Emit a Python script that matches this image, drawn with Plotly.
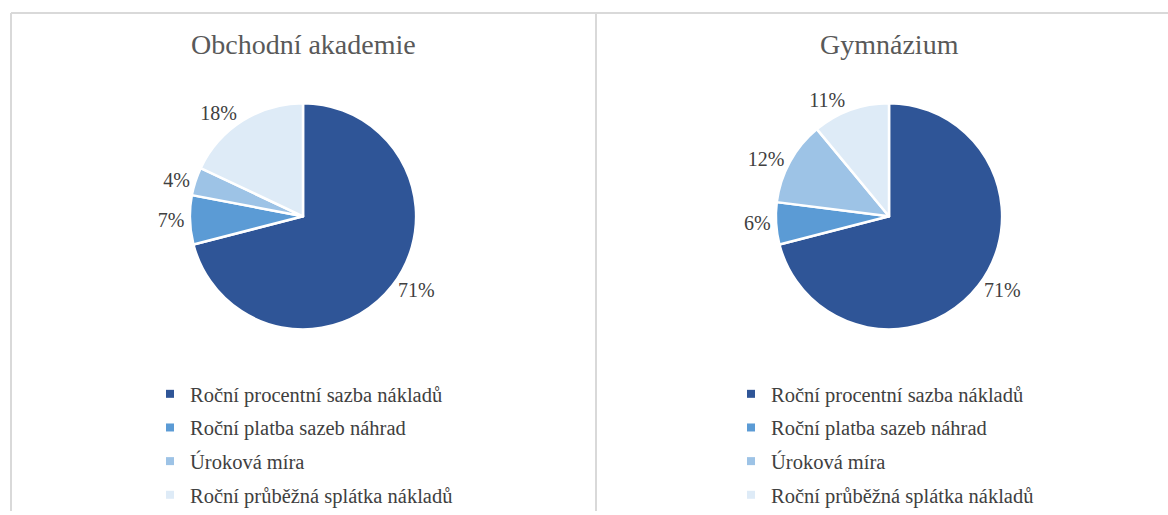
import plotly.graph_objects as go

categories = ["Roční procentní sazba nákladů", "Roční platba sazeb náhrad",
              "Úroková míra", "Roční průběžná splátka nákladů"]
titles = ["Obchodní akademie", "Gymnázium"]
values_oa = [71, 7, 4, 18]
values_gym = [71, 6, 12, 11]
colors = ["#2F5597", "#5B9BD5", "#9DC3E6", "#DEEBF7"]

W, H = 1168, 515
FONT = "Liberation Serif"

fig = go.Figure()

panels = [
    (values_oa, 303, "legend"),
    (values_gym, 889, "legend2"),
]
R = 114
CY = 218

for i, (vals, cx, lg) in enumerate(panels):
    fig.add_trace(go.Pie(
        labels=categories, values=vals, sort=False, direction="clockwise",
        rotation=0,
        marker=dict(colors=colors, line=dict(color="white", width=2.5)),
        texttemplate="%{value}%", textposition="outside",
        textfont=dict(family=FONT, size=20, color="#404040"),
        domain=dict(x=[(cx - R) / W, (cx + R) / W],
                    y=[1 - (CY + R) / H, 1 - (CY - R) / H]),
        showlegend=False, hoverinfo="label+value",
    ))
    for j, cat in enumerate(categories):
        fig.add_trace(go.Scatter(
            x=[None], y=[None], mode="markers", name=cat,
            marker=dict(symbol="square", size=8, color=colors[j]),
            legend=lg, legendgroup=f"{lg}_{j}", showlegend=True,
        ))
    fig.add_annotation(text=titles[i], x=cx / W, y=1 - 45 / H, xref="paper", yref="paper",
                       showarrow=False, xanchor="center", yanchor="middle",
                       font=dict(family=FONT, size=28, color="#595959"))

legend_font = dict(family=FONT, size=20.5, color="#404040")
fig.update_layout(
    font=dict(family=FONT, size=20, color="#404040"),
    legend=dict(x=150 / W, y=1 - 377 / H, font=legend_font,
                bgcolor="rgba(0,0,0,0)", tracegroupgap=4, xanchor="left", yanchor="top",
                itemclick=False),
    legend2=dict(x=731 / W, y=1 - 377 / H, font=legend_font,
                 bgcolor="rgba(0,0,0,0)", tracegroupgap=4, xanchor="left", yanchor="top",
                 itemclick=False),
)

# frame lines
line = dict(color="#D9D9D9", width=2)
fig.add_shape(type="line", xref="paper", yref="paper", x0=11 / W, x1=1, y0=1 - 13 / H, y1=1 - 13 / H, line=line)
fig.add_shape(type="line", xref="paper", yref="paper", x0=11 / W, x1=11 / W, y0=0, y1=1 - 13 / H, line=line)
fig.add_shape(type="line", xref="paper", yref="paper", x0=596 / W, x1=596 / W, y0=0, y1=1 - 13 / H, line=line)

fig.update_layout(
    width=W, height=H, margin=dict(l=0, r=0, t=0, b=0),
    paper_bgcolor="white", plot_bgcolor="rgba(0,0,0,0)",
    xaxis=dict(visible=False), yaxis=dict(visible=False),
)
fig.write_html("out.html", config={"displayModeBar": False},
               post_script="document.body.style.margin='0';document.body.style.overflow='hidden';")
